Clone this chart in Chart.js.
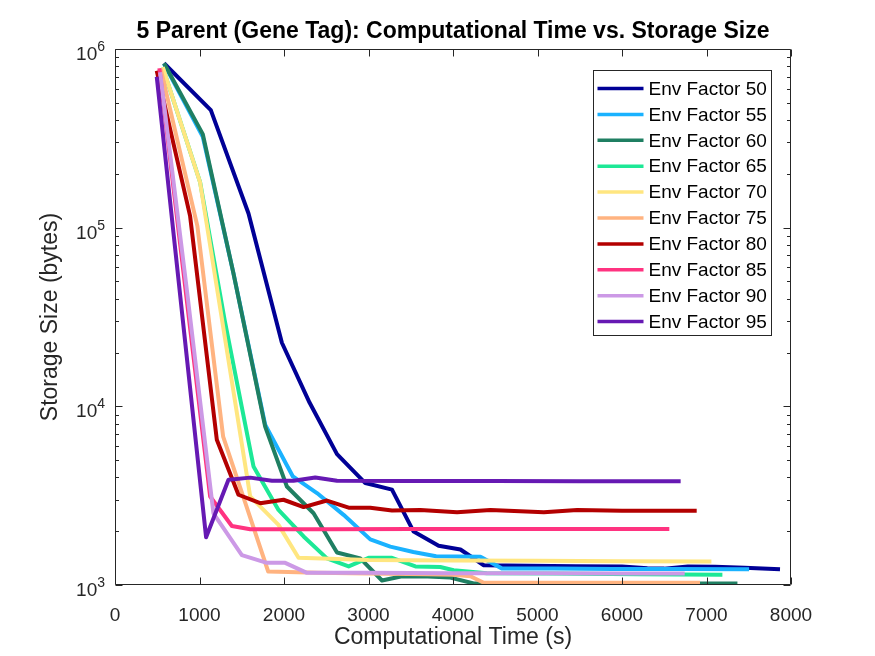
<!DOCTYPE html>
<html><head><meta charset="utf-8">
<script src="https://cdn.jsdelivr.net/npm/chart.js@4/dist/chart.umd.min.js"></script>
<style>html,body{margin:0;padding:0;background:#fff;}canvas{display:block;}</style>
</head><body>
<canvas id="c" width="875" height="656"></canvas>
<script>
const chartTitle = '5 Parent (Gene Tag): Computational Time vs. Storage Size';
const xTitle = 'Computational Time (s)';
const yTitle = 'Storage Size (bytes)';
const seriesLabels = ['Env Factor 50','Env Factor 55','Env Factor 60','Env Factor 65','Env Factor 70','Env Factor 75','Env Factor 80','Env Factor 85','Env Factor 90','Env Factor 95'];
const seriesColors = ['#000096','#1ab2ff','#1f7f62','#1de896','#ffe680','#ffb380','#b30000','#ff3380','#cc99e6','#6619b3'];
const xTicks = [0,1000,2000,3000,4000,5000,6000,7000,8000];
const yTicks = [1000,10000,100000,1000000];

const time50 = [580,1134,1580,1975,2302,2627,2962,3278,3534,3830,4088,4364,4900,5450,6000,6300,6500,6780,7100,7450,7870];
const size50 = [832000,455000,120000,22700,10500,5400,3720,3420,1990,1660,1580,1290,1280,1275,1270,1240,1235,1270,1265,1250,1225];
const time55 = [580,1039,1400,1777,2105,2390,2705,3021,3258,3530,3800,4050,4325,4582,5200,5900,6600,7504];
const size55 = [825000,322000,56000,7900,4050,3270,2470,1800,1640,1530,1450,1445,1440,1235,1235,1230,1230,1225];
const time60 = [580,1039,1400,1777,2034,2350,2627,2903,3160,3397,3700,3969,4245,5000,6000,7366];
const size60 = [832000,334000,56000,7700,3560,2520,1520,1410,1060,1120,1115,1100,1020,1020,1020,1020];
const time65 = [565,1007,1300,1639,1935,2232,2508,2765,3001,3278,3555,3850,4008,4400,5200,6200,7188];
const size65 = [790000,180000,30000,4610,2630,1870,1410,1270,1420,1420,1270,1260,1210,1165,1160,1150,1140];
const time70 = [565,1007,1300,1600,1935,2172,3000,4000,5000,6000,7058];
const size70 = [791000,179000,24300,3130,2170,1420,1380,1370,1365,1360,1355];
const time75 = [541,975,1280,1550,1813,2400,3000,3700,4010,4206,4364,5000,6000,6923];
const size75 = [773000,102000,6760,2810,1190,1170,1160,1150,1140,1120,1030,1030,1030,1030];
const time80 = [494,889,1205,1461,1718,1994,2232,2508,2765,3021,3278,3613,4048,4443,5075,5470,6000,6884];
const size80 = [756000,116000,6500,3200,2870,3000,2730,2970,2710,2710,2610,2630,2550,2630,2550,2630,2600,2600];
const time85 = [525,830,1126,1383,1600,2500,3500,4500,5500,6560];
const size85 = [780000,47000,3130,2140,2050,2050,2055,2055,2060,2060];
const time90 = [533,850,1165,1501,1797,2014,2271,3000,4000,5000,6000,6742];
const size90 = [741000,45000,2520,1470,1330,1330,1170,1170,1165,1165,1160,1160];
const time95 = [494,1078,1343,1600,1857,2113,2370,2627,3500,4500,5500,6694];
const size95 = [700000,1850,3880,3990,3830,3830,4000,3830,3820,3815,3810,3810];

const allTimes = [time50,time55,time60,time65,time70,time75,time80,time85,time90,time95];
const allSizes = [size50,size55,size60,size65,size70,size75,size80,size85,size90,size95];

const FONT = "'Liberation Sans', Arial, Helvetica, sans-serif";
const AXIS = '#262626';
Chart.defaults.font.family = FONT;
Chart.defaults.color = AXIS;

const datasets = seriesLabels.map((lab, i) => ({
  label: lab,
  data: allTimes[i].map((t, j) => ({x: t, y: allSizes[i][j]})),
  borderColor: seriesColors[i],
  backgroundColor: seriesColors[i],
  borderWidth: 4,
  pointRadius: 0,
  pointHoverRadius: 0,
  tension: 0,
  fill: false,
  borderJoinStyle: 'round',
  order: seriesLabels.length - i
}));

const axesPlugin = {
  id: 'matlabAxes',
  afterDatasetsDraw(chart) {
    const {ctx, chartArea: a, scales: {x, y}} = chart;
    const L = Math.round(a.left) + 0.5, R = Math.round(a.right) - 0.5;
    const T = Math.round(a.top) + 0.5, B = Math.round(a.bottom) - 0.5;
    ctx.save();
    ctx.strokeStyle = AXIS; ctx.lineWidth = 1;
    ctx.beginPath();
    ctx.moveTo(L, T); ctx.lineTo(R, T); ctx.lineTo(R, B); ctx.lineTo(L, B); ctx.closePath();
    const maj = 7, mnr = 3.5;
    xTicks.forEach(v => {
      const p = Math.round(x.getPixelForValue(v)) + 0.5;
      ctx.moveTo(p, B); ctx.lineTo(p, B - maj);
      ctx.moveTo(p, T); ctx.lineTo(p, T + maj);
    });
    yTicks.forEach((v, k) => {
      const p = Math.round(y.getPixelForValue(v)) + 0.5;
      ctx.moveTo(L, p); ctx.lineTo(L + maj, p);
      ctx.moveTo(R, p); ctx.lineTo(R - maj, p);
      if (k < yTicks.length - 1) {
        for (let m = 2; m <= 9; m++) {
          const q = Math.round(y.getPixelForValue(v * m)) + 0.5;
          ctx.moveTo(L, q); ctx.lineTo(L + mnr, q);
          ctx.moveTo(R, q); ctx.lineTo(R - mnr, q);
        }
      }
    });
    ctx.stroke();
    // y tick labels 10^n
    ctx.fillStyle = AXIS;
    ctx.textAlign = 'right'; ctx.textBaseline = 'alphabetic';
    yTicks.forEach(v => {
      const p = y.getPixelForValue(v);
      const ex = String(Math.round(Math.log10(v)));
      const rx = a.left - 10;
      ctx.font = `14px ${FONT}`;
      const ew = ctx.measureText(ex).width;
      ctx.fillText(ex, rx, p + 2);
      ctx.font = `19px ${FONT}`;
      ctx.fillText('10', rx - ew, p + 11);
    });
    // legend
    const bw = 178, bh = 265;
    const bx = Math.round(a.right - 198) + 0.5, by = Math.round(a.top + 21) + 0.5;
    ctx.fillStyle = '#fff';
    ctx.fillRect(bx, by, bw, bh);
    ctx.strokeStyle = AXIS; ctx.lineWidth = 1;
    ctx.strokeRect(bx, by, bw, bh);
    ctx.font = `19px ${FONT}`;
    ctx.textAlign = 'left'; ctx.textBaseline = 'middle';
    seriesLabels.forEach((lab, i) => {
      const cy = by + 18 + i * 25.9;
      ctx.strokeStyle = seriesColors[i]; ctx.lineWidth = 3.5;
      ctx.beginPath(); ctx.moveTo(bx + 4, cy); ctx.lineTo(bx + 50, cy); ctx.stroke();
      ctx.fillStyle = '#000';
      ctx.fillText(lab, bx + 55, cy + 1);
    });
    ctx.restore();
  }
};

new Chart(document.getElementById('c'), {
  type: 'line',
  data: {datasets},
  options: {
    responsive: false,
    animation: false,
    devicePixelRatio: 1,
    layout: {padding: {left: 37, right: 84, top: 0, bottom: 0}},
    plugins: {
      legend: {display: false},
      tooltip: {enabled: false},
      title: {display: true, text: chartTitle, fullSize: false, color: '#000',
        font: {size: 23, weight: 'bold', family: FONT}, padding: {top: 17.5, bottom: 3.9}}
    },
    scales: {
      x: {
        type: 'linear', min: 0, max: 8000,
        grid: {display: false}, border: {display: false},
        ticks: {stepSize: 1000, font: {size: 19}, color: AXIS, padding: 11, maxRotation: 0, autoSkip: false,
          callback: v => String(v)},
        afterBuildTicks: s => { s.ticks = xTicks.map(v => ({value: v})); },
        title: {display: true, text: xTitle, font: {size: 23}, color: AXIS, padding: {top: 0, bottom: 5}},
        afterFit: s => { s.height = 71; }
      },
      y: {
        type: 'logarithmic', min: 1000, max: 1000000,
        grid: {display: false}, border: {display: false},
        ticks: {display: false},
        title: {display: true, text: yTitle, font: {size: 23}, color: AXIS, padding: {top: 0, bottom: 0}},
        afterFit: s => { s.width = 78; }
      }
    }
  },
  plugins: [axesPlugin]
});
</script>
</body></html>
